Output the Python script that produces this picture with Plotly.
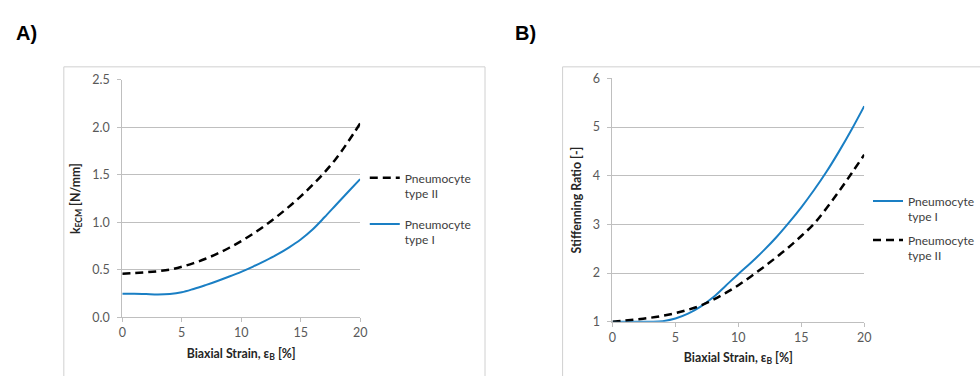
import plotly.graph_objects as go

W, H = 980, 376

strain = [0, 1, 2, 3, 4, 5, 6, 7, 8, 9, 10, 11, 12, 13, 14, 15, 16, 17, 18, 19, 20]

# Panel A: k_ECM [N/mm]
kecm_type2 = [0.46, 0.467, 0.475, 0.486, 0.503, 0.533, 0.571, 0.617, 0.671, 0.733, 0.803,
              0.881, 0.967, 1.061, 1.163, 1.273, 1.393, 1.525, 1.675, 1.85, 2.04]
kecm_type1 = [0.25, 0.25, 0.246, 0.242, 0.247, 0.265, 0.30, 0.34, 0.383, 0.43, 0.48,
              0.535, 0.595, 0.66, 0.735, 0.82, 0.925, 1.053, 1.188, 1.322, 1.455]

# Panel B: Stiffening ratio [-]
ratio_type1 = [1.0, 1.0, 1.0, 1.0, 1.01, 1.065, 1.165, 1.31, 1.5, 1.74, 1.98,
               2.21, 2.46, 2.73, 3.03, 3.35, 3.70, 4.08, 4.50, 4.95, 5.43]
ratio_type2 = [1.0, 1.025, 1.05, 1.08, 1.12, 1.175, 1.245, 1.33, 1.45, 1.59, 1.75,
               1.93, 2.12, 2.32, 2.53, 2.76, 3.01, 3.33, 3.68, 4.05, 4.43]

xticks = [0, 5, 10, 15, 20]
ytick_a = [0.0, 0.5, 1.0, 1.5, 2.0, 2.5]
ytick_b = [1, 2, 3, 4, 5, 6]

BLUE = "#1a7fc4"
BLACK = "#000000"
GRID = "#bfbfbf"
FONT = "Lato"
TICKC = "#595959"


def px_x(p):
    return p / W


def px_y(p):
    return 1 - p / H


fig = go.Figure()

fig.add_trace(go.Scatter(x=strain, y=kecm_type2, mode="lines", name="Pneumocyte<br>type II",
                         line=dict(color=BLACK, width=2.5, dash="8px,5px", shape="spline"),
                         xaxis="x", yaxis="y", legend="legend", legendgroup="a2"))
fig.add_trace(go.Scatter(x=strain, y=kecm_type1, mode="lines", name="Pneumocyte<br>type I",
                         line=dict(color=BLUE, width=2, shape="spline"),
                         xaxis="x", yaxis="y", legend="legend", legendgroup="a1"))
fig.add_trace(go.Scatter(x=strain, y=ratio_type1, mode="lines", name="Pneumocyte<br>type I",
                         line=dict(color=BLUE, width=2, shape="spline"),
                         xaxis="x2", yaxis="y2", legend="legend2", legendgroup="b1"))
fig.add_trace(go.Scatter(x=strain, y=ratio_type2, mode="lines", name="Pneumocyte<br>type II",
                         line=dict(color=BLACK, width=2.5, dash="8px,5px", shape="spline"),
                         xaxis="x2", yaxis="y2", legend="legend2", legendgroup="b2"))

xcommon = dict(showgrid=False, showline=True, linecolor=GRID, linewidth=1,
               ticks="outside", ticklen=4, tickcolor=GRID, tickvals=xticks,
               tickfont=dict(family=FONT, size=12.5, color=TICKC), zeroline=False,
               range=[0, 20], fixedrange=True)
ycommon = dict(showgrid=True, gridcolor=GRID, gridwidth=1, showline=True, linecolor=GRID,
               ticks="outside", ticklen=4, tickcolor=GRID, ticklabelstandoff=5,
               tickfont=dict(family=FONT, size=12.5, color=TICKC), zeroline=False,
               fixedrange=True)

xtitle = dict(text="<b>Biaxial Strain, ε<sub>B</sub> [%]</b>",
              font=dict(family=FONT, size=12.3, color="#262626"), standoff=9)

fig.update_layout(
    width=W, height=H,
    margin=dict(l=0, r=0, t=0, b=0),
    paper_bgcolor="white", plot_bgcolor="white",
    xaxis=dict(domain=[px_x(120), px_x(361.3)], anchor="y", title=xtitle, **xcommon),
    yaxis=dict(domain=[px_y(322.3), px_y(74.7)], anchor="x", range=[0, 2.5],
               tickvals=ytick_a, tickformat=".1f",
               title=dict(text="<b>k<sub>ECM</sub> [N/mm]</b>",
                          font=dict(family=FONT, size=12.3, color="#262626"), standoff=9),
               **ycommon),
    xaxis2=dict(domain=[px_x(617.3), px_x(872.7)], anchor="y2", title=xtitle, **xcommon),
    yaxis2=dict(domain=[px_y(326.7), px_y(73.3)], anchor="x2", range=[1, 6],
                tickvals=ytick_b,
                title=dict(text="<b>Stiffenning Ratio [-]</b>",
                           font=dict(family=FONT, size=12.3, color="#262626"), standoff=8),
                **ycommon),
    legend=dict(x=px_x(366), y=px_y(162), xanchor="left", yanchor="top",
                font=dict(family=FONT, size=12, color="#404040"), valign="top",
                traceorder="grouped", tracegroupgap=12, itemwidth=30,
                bgcolor="rgba(0,0,0,0)"),
    legend2=dict(x=px_x(877), y=px_y(186), xanchor="left", yanchor="top",
                 font=dict(family=FONT, size=12, color="#404040"), valign="top",
                 traceorder="grouped", tracegroupgap=5, itemwidth=30,
                 bgcolor="rgba(0,0,0,0)"),
    showlegend=True,
)

# outer chart boxes
fig.add_shape(type="rect", xref="paper", yref="paper",
              x0=px_x(60.7), x1=px_x(488), y0=px_y(400), y1=px_y(61.3),
              line=dict(color="#d0d0d0", width=1), fillcolor="rgba(0,0,0,0)", layer="below")
fig.add_shape(type="rect", xref="paper", yref="paper",
              x0=px_x(566.7), x1=px_x(1010), y0=px_y(400), y1=px_y(61.3),
              line=dict(color="#d0d0d0", width=1), fillcolor="rgba(0,0,0,0)", layer="below")

fig.add_annotation(text="<b>A)</b>", xref="paper", yref="paper", x=px_x(10), y=px_y(26),
                   xanchor="left", yanchor="middle", showarrow=False,
                   font=dict(family="Liberation Sans", size=20, color="#000000"))
fig.add_annotation(text="<b>B)</b>", xref="paper", yref="paper", x=px_x(516), y=px_y(26),
                   xanchor="left", yanchor="middle", showarrow=False,
                   font=dict(family="Liberation Sans", size=20, color="#000000"))

fig.write_html(
    "out.html",
    config={"displayModeBar": False},
    post_script=("document.documentElement.style.margin='0';"
                 "document.body.style.margin='0';document.body.style.padding='0';"
                 "document.documentElement.style.overflow='hidden';"
                 "document.body.style.overflow='hidden';"
                 "var d=document.getElementById('{plot_id}');"
                 "d.style.position='fixed';d.style.left='0px';d.style.top='0px';"),
)
